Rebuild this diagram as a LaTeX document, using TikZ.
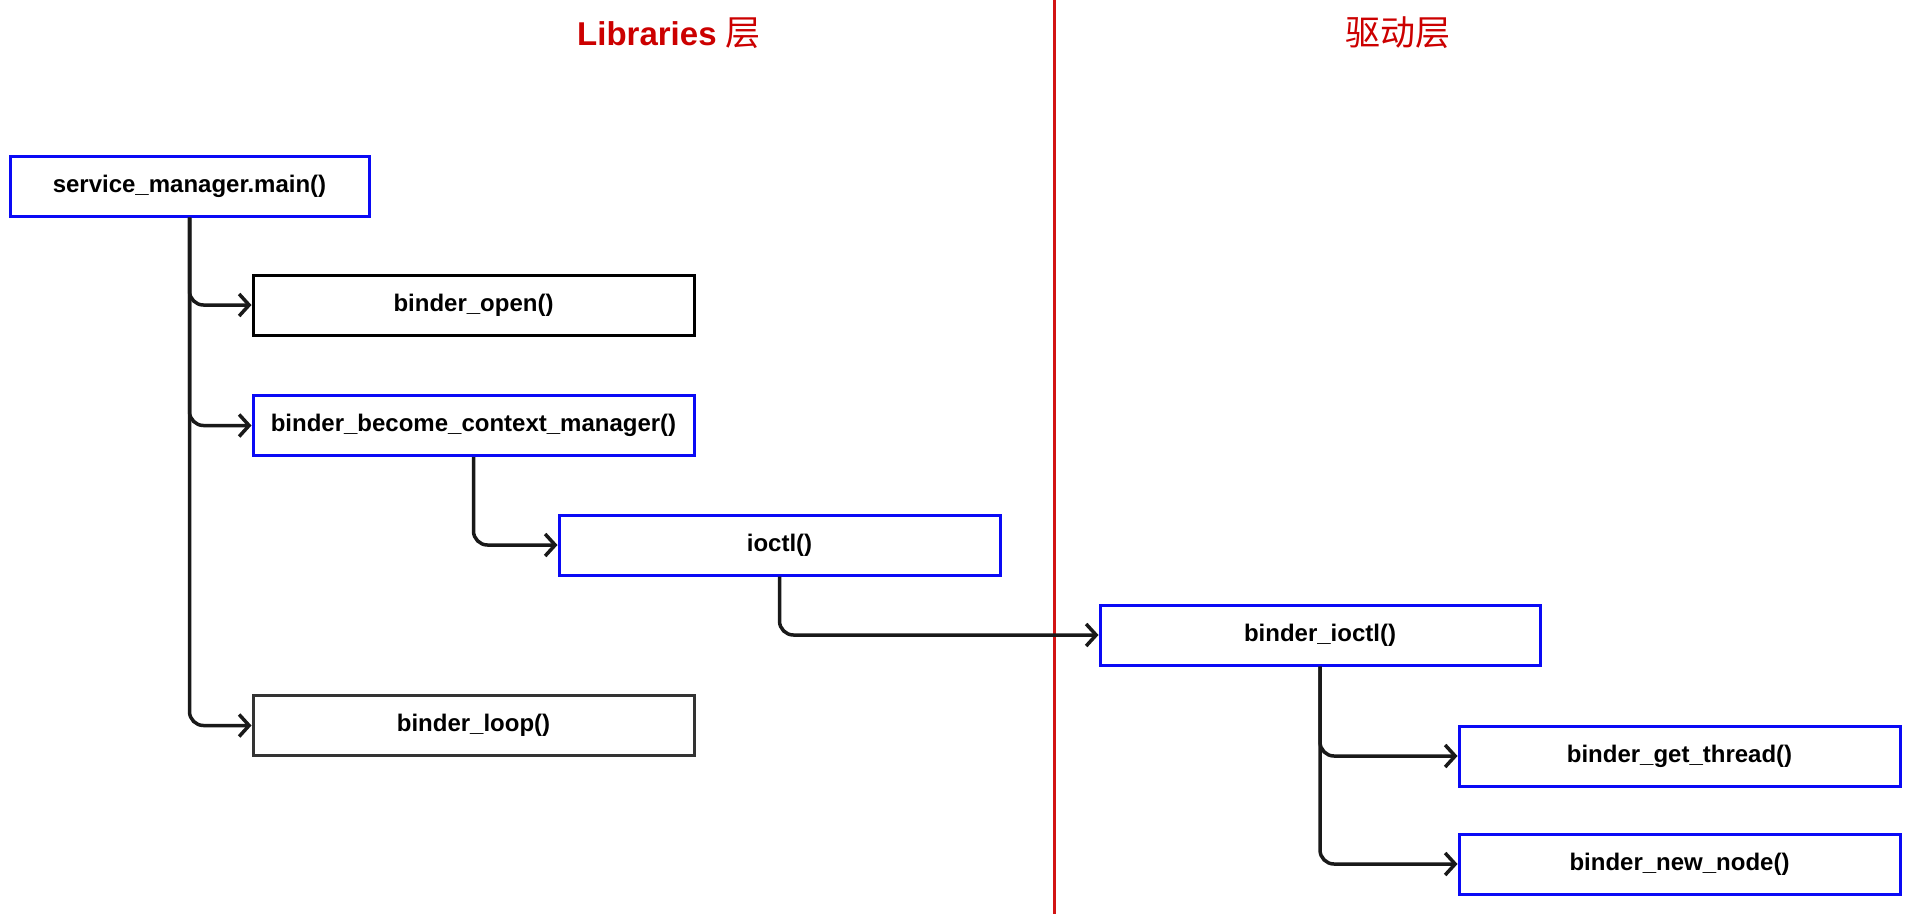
\documentclass[tikz,border=0pt]{standalone}
\usepackage{fontspec}
\setmainfont{Liberation Sans}
\newfontfamily\cjkfont{Noto Sans CJK SC}
\usetikzlibrary{arrows.meta}
\definecolor{boxblue}{RGB}{10,10,245}
\definecolor{divred}{RGB}{210,20,20}
\definecolor{titlered}{RGB}{204,0,0}
\definecolor{connc}{RGB}{25,25,25}
\begin{document}
\begin{tikzpicture}[x=1pt,y=-1pt,
  fbox/.style={draw, line width=3pt, minimum height=60pt, inner sep=0pt,
    font=\fontsize{24}{28}\selectfont\bfseries, text=black},
  bluebox/.style={fbox, draw=boxblue},
  blackbox/.style={fbox, draw=black},
  greybox/.style={fbox, draw=black!80},
  conn/.style={draw=connc, line width=3.5pt, rounded corners=14pt,
    -{Straight Barb[length=10pt,width=22pt]}},
  title/.style={text=titlered, font=\fontsize{33}{38}\selectfont\bfseries},
  cjktitle/.style={text=titlered, font=\fontsize{35}{40}\selectfont\cjkfont\mdseries}]
\useasboundingbox (0,0) rectangle (1910,914);
\fill[white] (0,0) rectangle (1910,914);
% divider
\draw[divred, line width=3pt] (1054,0) -- (1054,914);
% titles
\node[title] (t1) at (669,33) {Libraries {\fontsize{35}{40}\selectfont\cjkfont\mdseries 层}};
\node[cjktitle] (t2) at (1398,33) {驱动层};
% boxes
\node[bluebox, minimum width=359pt] (sm) at (189.5,186) {service\_manager.main()};
\node[blackbox, minimum width=441pt] (bo) at (473.5,305) {binder\_open()};
\node[bluebox, minimum width=441pt] (bc) at (473.5,425.5) {binder\_become\_context\_manager()};
\node[bluebox, minimum width=441pt] (io) at (779.5,545) {ioctl()};
\node[greybox, minimum width=441pt] (bl) at (473.5,725.5) {binder\_loop()};
\node[bluebox, minimum width=440pt] (bi) at (1320,635) {binder\_ioctl()};
\node[bluebox, minimum width=441pt] (gt) at (1679.5,756) {binder\_get\_thread()};
\node[bluebox, minimum width=441pt] (nn) at (1679.5,864) {binder\_new\_node()};
% connectors
\draw[conn] (sm.south) |- (bo.west);
\draw[conn] (sm.south) |- (bc.west);
\draw[conn] (sm.south) |- (bl.west);
\draw[conn] (bc.south) |- (io.west);
\draw[conn] (io.south) |- (bi.west);
\draw[conn] (bi.south) |- (gt.west);
\draw[conn] (bi.south) |- (nn.west);
\end{tikzpicture}
\end{document}
